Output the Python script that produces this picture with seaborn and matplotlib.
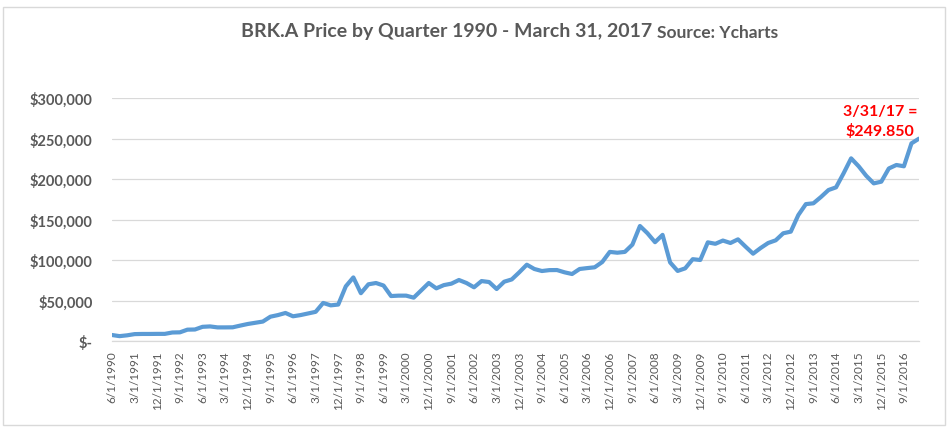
import numpy as np
import pandas as pd
import matplotlib
matplotlib.use("Agg")
import matplotlib.pyplot as plt
import seaborn as sns
from matplotlib.patches import Rectangle
from matplotlib.ticker import FuncFormatter

# -----------------------------
# Data: BRK.A quarterly price, 6/1/1990 - 3/31/2017
# -----------------------------
START_DATE = "1990-06-01"
prices = [
    7400, 6000, 7000, 8500, 8700, 8700, 8800, 8800, 10500, 10700,
    14000, 14200, 17500, 18000, 16800, 16800, 16900, 19000, 21000, 22500,
    24000, 30000, 32000, 34600, 30500, 32000, 34000, 36000, 47000, 44000,
    45000, 67500, 78500, 59000, 70000, 71600, 68500, 55500, 56000, 56000,
    53500, 62500, 71600, 65000, 69000, 70800, 75300, 71600, 66300, 74000,
    72800, 64200, 73200, 76000, 84800, 94200, 88900, 86400, 87500, 87600,
    84800, 82700, 88900, 90000, 91000, 97500, 110000, 109000, 110000, 119000,
    142000, 133000, 122000, 131000, 97000, 86500, 89700, 101000, 100000, 121800,
    120000, 124000, 121000, 125500, 116500, 107800, 114800, 121000, 124300, 133000,
    135000, 155500, 169000, 170000, 177800, 186400, 189700, 207000, 225500, 215700,
    204000, 194600, 196700, 213000, 217300, 215700, 244000, 249850,
]
y_ticks = [0, 50000, 100000, 150000, 200000, 250000, 300000]
annotation_text = "3/31/17 =\n$249.850"

dates = pd.date_range(START_DATE, periods=len(prices), freq="QS-MAR")
date_labels = [f"{d.month}/{d.day}/{d.year}" for d in dates]

df = pd.DataFrame({"idx": np.arange(len(prices)), "price": prices})

# -----------------------------
# Plot
# -----------------------------
sns.set_style("white")
plt.rcParams["font.family"] = ["Lato", "DejaVu Sans"]

fig = plt.figure(figsize=(9.53, 4.31), dpi=100)
ax = fig.add_axes([112 / 953, 1 - 342 / 431, (919 - 112) / 953, (342 - 99) / 431])

sns.lineplot(data=df, x="idx", y="price", ax=ax, color="#5B9BD5", linewidth=3.0)

ax.set_xlim(0, len(prices) - 1)
ax.set_ylim(0, 300000)
ax.set_yticks(y_ticks)
ax.yaxis.set_major_formatter(FuncFormatter(lambda v, p: "$-" if v == 0 else f"${v:,.0f}"))
ax.set_xticks(df["idx"][::3])
ax.set_xticklabels(date_labels[::3], rotation=90)

ax.grid(axis="y", color="#d9d9d9", linewidth=0.9)
ax.grid(axis="x", visible=False)
for s in ["top", "right", "left"]:
    ax.spines[s].set_visible(False)
ax.spines["bottom"].set_color("#d9d9d9")
ax.spines["bottom"].set_linewidth(0.9)
ax.tick_params(axis="both", length=0)
ax.tick_params(axis="y", pad=14, labelsize=10.5, labelcolor="#595959")
ax.tick_params(axis="x", pad=7, labelsize=8.5, labelcolor="#595959")
for lab in ax.get_yticklabels():
    lab.set_fontweight("bold")
ax.set_xlabel("")
ax.set_ylabel("")

# annotation for the last quarter
ax.text(101.8, 272000, annotation_text, color="red", fontsize=11.5, fontweight="bold",
        ha="center", va="center", linespacing=1.4, clip_on=False)

# title: main part and smaller source part
fig.text(657 / 953, 1 - 32 / 431, "BRK.A Price by Quarter 1990 - March 31, 2017 ",
         ha="right", va="center", fontsize=14, fontweight="bold", color="#595959")
fig.text(657 / 953, 1 - 33 / 431, "Source: Ycharts",
         ha="left", va="center", fontsize=12.5, fontweight="bold", color="#595959")

# outer chart border
fig.patches.append(Rectangle((3 / 953, 5 / 431), 942 / 953, 418 / 431,
                             transform=fig.transFigure, fill=False,
                             edgecolor="#d9d9d9", linewidth=1))

plt.savefig("out.png", dpi=100)
